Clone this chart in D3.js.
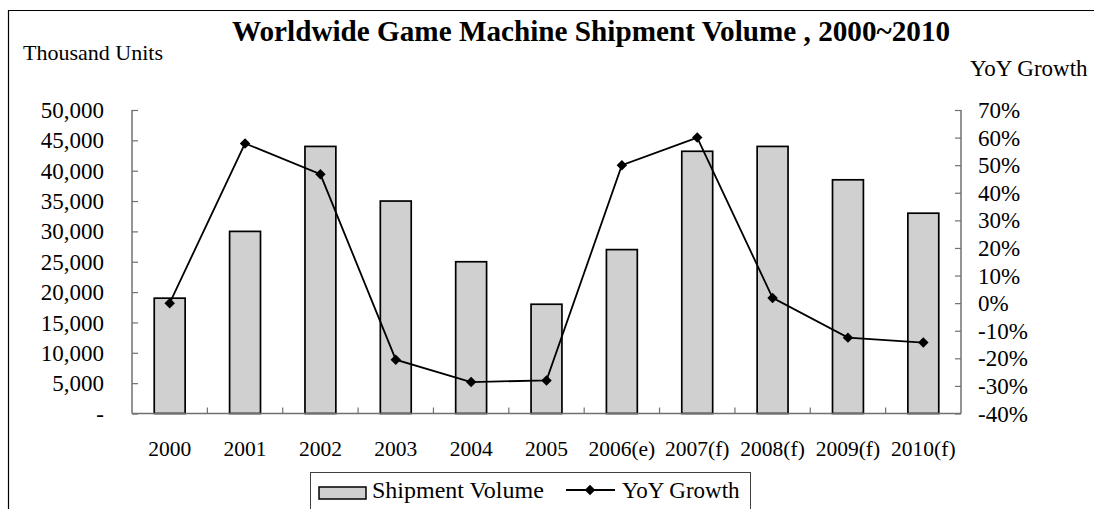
<!DOCTYPE html>
<html>
<head>
<meta charset="utf-8">
<script src="https://cdn.jsdelivr.net/npm/d3@7"></script>
<style>
  html, body { margin: 0; padding: 0; background: #fff; }
  svg { display: block; }
  text { font-family: "Liberation Serif", serif; fill: #000; }
</style>
</head>
<body>
<svg id="chart"></svg>
<script>
// Chart data
const years = ['2000', '2001', '2002', '2003', '2004', '2005', '2006(e)', '2007(f)', '2008(f)', '2009(f)', '2010(f)'];
const shipments = [19000, 30000, 44000, 35000, 25000, 18000, 27000, 43200, 44000, 38500, 33000];
const growth = [0, 57.9, 46.7, -20.5, -28.6, -28.0, 50.0, 60.0, 1.9, -12.5, -14.3];
const leftTicks = [0, 5000, 10000, 15000, 20000, 25000, 30000, 35000, 40000, 45000, 50000];
const rightTicks = [-40, -30, -20, -10, 0, 10, 20, 30, 40, 50, 60, 70];

const width = 1094;
const height = 509;
const plot = { left: 132, right: 961, top: 110, bottom: 413.5 };

const svg = d3.select('#chart')
    .attr('width', width)
    .attr('height', height)
    .attr('viewBox', `0 0 ${width} ${height}`);

svg.append('rect').attr('width', width).attr('height', height).attr('fill', '#fff');

// Outer frame (top and left edges only are visible)
svg.append('path')
    .attr('d', `M8.5,${height} V10.5 H${width}`)
    .attr('fill', 'none')
    .attr('stroke', '#000')
    .attr('stroke-width', 1.2);

// Scales
const x = d3.scaleBand()
    .domain(years)
    .range([plot.left, plot.right])
    .paddingInner(0.59)
    .paddingOuter(0.295);

const yLeft = d3.scaleLinear().domain([0, 50000]).range([plot.bottom, plot.top]);
const yRight = d3.scaleLinear().domain([-40, 70]).range([plot.bottom, plot.top]);

// Titles
svg.append('text')
    .attr('x', 591)
    .attr('y', 41)
    .attr('text-anchor', 'middle')
    .attr('font-size', 29.2)
    .attr('font-weight', 'bold')
    .text('Worldwide Game Machine Shipment Volume , 2000~2010');

svg.append('text')
    .attr('x', 23)
    .attr('y', 60)
    .attr('font-size', 22)
    .text('Thousand Units');

svg.append('text')
    .attr('x', 970)
    .attr('y', 76)
    .attr('font-size', 23)
    .text('YoY Growth');

// Bars
svg.append('g')
    .selectAll('rect')
    .data(years.map((y, i) => ({ year: y, value: shipments[i] })))
    .enter()
    .append('rect')
    .attr('x', d => x(d.year))
    .attr('y', d => yLeft(d.value))
    .attr('width', x.bandwidth())
    .attr('height', d => plot.bottom - yLeft(d.value))
    .attr('fill', '#d0d0d0')
    .attr('stroke', '#000')
    .attr('stroke-width', 1.7);

// Left axis
const leftAxis = d3.axisRight(yLeft)
    .tickValues(leftTicks)
    .tickSize(6)
    .tickFormat('');
const gLeft = svg.append('g')
    .attr('transform', `translate(${plot.left},0)`)
    .call(leftAxis);
gLeft.select('.domain').remove();
gLeft.selectAll('line').attr('stroke', '#707070').attr('stroke-width', 1.2);
svg.append('line')
    .attr('x1', plot.left).attr('x2', plot.left)
    .attr('y1', plot.top).attr('y2', plot.bottom)
    .attr('stroke', '#707070').attr('stroke-width', 1.5);

svg.append('g')
    .selectAll('text')
    .data(leftTicks)
    .enter()
    .append('text')
    .attr('x', 104)
    .attr('y', d => yLeft(d))
    .attr('dy', '0.35em')
    .attr('text-anchor', 'end')
    .attr('font-size', 23)
    .text(d => d === 0 ? '-' : d3.format(',')(d));

// Right axis
const rightAxis = d3.axisLeft(yRight)
    .tickValues(rightTicks)
    .tickSize(6)
    .tickFormat('');
const gRight = svg.append('g')
    .attr('transform', `translate(${plot.right},0)`)
    .call(rightAxis);
gRight.select('.domain').remove();
gRight.selectAll('line').attr('stroke', '#707070').attr('stroke-width', 1.2);
svg.append('line')
    .attr('x1', plot.right).attr('x2', plot.right)
    .attr('y1', plot.top).attr('y2', plot.bottom)
    .attr('stroke', '#707070').attr('stroke-width', 1.5);

svg.append('g')
    .selectAll('text')
    .data(rightTicks)
    .enter()
    .append('text')
    .attr('x', 978)
    .attr('y', d => yRight(d))
    .attr('dy', '0.35em')
    .attr('font-size', 23)
    .text(d => `${d}%`);

// Category axis: ticks sit between categories
const boundaries = years.slice(1).map(y => x(y) - x.step() * x.paddingInner() / 2);
svg.append('g')
    .selectAll('line')
    .data(boundaries)
    .enter()
    .append('line')
    .attr('x1', d => d).attr('x2', d => d)
    .attr('y1', plot.bottom).attr('y2', plot.bottom - 6)
    .attr('stroke', '#707070')
    .attr('stroke-width', 1.2);
svg.append('line')
    .attr('x1', plot.left).attr('x2', plot.right)
    .attr('y1', plot.bottom).attr('y2', plot.bottom)
    .attr('stroke', '#707070').attr('stroke-width', 1.5);

svg.append('g')
    .selectAll('text')
    .data(years)
    .enter()
    .append('text')
    .attr('x', d => x(d) + x.bandwidth() / 2)
    .attr('y', 456)
    .attr('text-anchor', 'middle')
    .attr('font-size', 21.5)
    .text(d => d);

// Growth line
const line = d3.line()
    .x((d, i) => x(years[i]) + x.bandwidth() / 2)
    .y(d => yRight(d));

svg.append('path')
    .datum(growth)
    .attr('d', line)
    .attr('fill', 'none')
    .attr('stroke', '#000')
    .attr('stroke-width', 1.8);

const diamond = d3.symbol().type(d3.symbolDiamond2).size(70);
svg.append('g')
    .selectAll('path')
    .data(growth)
    .enter()
    .append('path')
    .attr('d', diamond)
    .attr('transform', (d, i) => `translate(${x(years[i]) + x.bandwidth() / 2},${yRight(d)})`)
    .attr('fill', '#000');

// Legend
const legend = svg.append('g');
legend.append('rect')
    .attr('x', 310.5).attr('y', 472.5)
    .attr('width', 440).attr('height', 50)
    .attr('fill', '#fff')
    .attr('stroke', '#404040')
    .attr('stroke-width', 1);
legend.append('rect')
    .attr('x', 319).attr('y', 487)
    .attr('width', 47).attr('height', 12)
    .attr('fill', '#d0d0d0')
    .attr('stroke', '#000')
    .attr('stroke-width', 1.5);
legend.append('text')
    .attr('x', 372).attr('y', 498)
    .attr('font-size', 24)
    .text('Shipment Volume');
legend.append('line')
    .attr('x1', 566).attr('x2', 615)
    .attr('y1', 490).attr('y2', 490)
    .attr('stroke', '#000').attr('stroke-width', 1.8);
legend.append('path')
    .attr('d', diamond)
    .attr('transform', 'translate(590,490)')
    .attr('fill', '#000');
legend.append('text')
    .attr('x', 622).attr('y', 498)
    .attr('font-size', 23)
    .text('YoY Growth');
</script>
</body>
</html>
